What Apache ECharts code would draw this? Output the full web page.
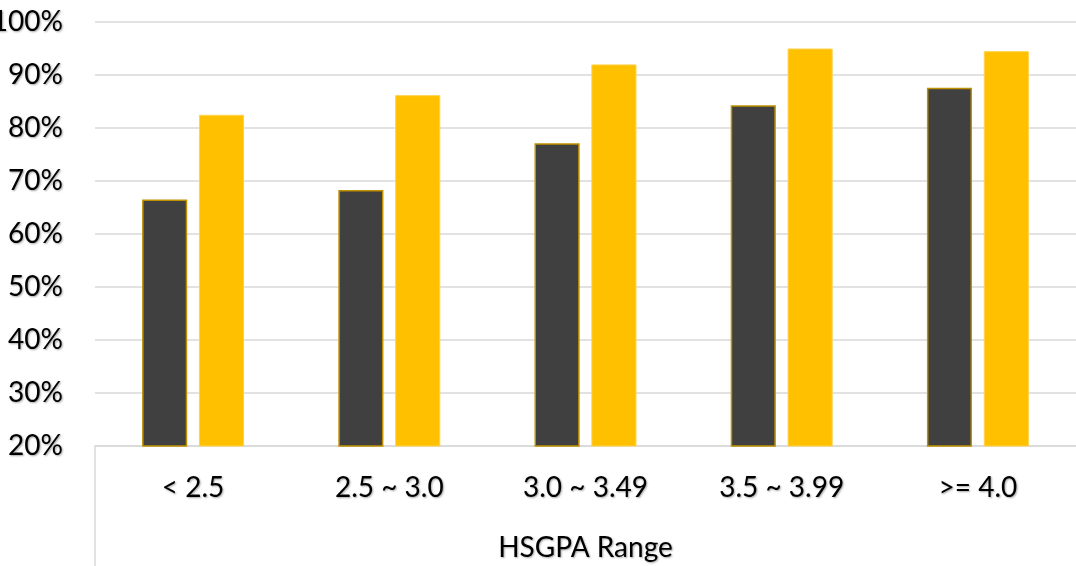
<!DOCTYPE html>
<html>
<head>
<meta charset="utf-8">
<script src="https://cdn.jsdelivr.net/npm/echarts@6/dist/echarts.min.js"></script>
<style>html,body{margin:0;padding:0;background:#fff}#c{width:1076px;height:566px}</style>
</head>
<body>
<div id="c"></div>
<script>
const categories = ['< 2.5', '2.5 ~ 3.0', '3.0 ~ 3.49', '3.5 ~ 3.99', '>= 4.0'];
const darkValues = [66.5, 68.3, 77.1, 84.3, 87.6];
const goldValues = [82.5, 86.2, 92.0, 95.0, 94.5];
const axisName = 'HSGPA Range';

const FONT = 'Lato, "Open Sans", sans-serif';
const FS = 28;
const shadow = { textShadowColor: 'rgba(0,0,0,0.35)', textShadowBlur: 2, textShadowOffsetX: 1, textShadowOffsetY: 1 };
const GRID = { left: 95, right: 0, top: 22, bottom: 120, outerBoundsMode: 'none', containLabel: false };

const chart = echarts.init(document.getElementById('c'), null, { renderer: 'canvas' });
chart.setOption({
  animation: false,
  backgroundColor: '#ffffff',
  grid: GRID,
  xAxis: {
    type: 'category',
    data: categories,
    axisLine: { show: true, lineStyle: { color: '#d9d9d9', width: 1.5 } },
    axisTick: { show: false },
    axisLabel: Object.assign({ color: '#000', fontFamily: FONT, fontSize: FS, margin: 28 }, shadow),
    name: axisName,
    nameLocation: 'middle',
    nameGap: 88,
    nameTextStyle: Object.assign({ color: '#000', fontFamily: FONT, fontSize: FS }, shadow)
  },
  yAxis: {
    type: 'value',
    min: 20, max: 100, interval: 10,
    axisLine: { show: false },
    axisTick: { show: false },
    splitLine: { lineStyle: { color: '#d9d9d9', width: 1.5 } },
    axisLabel: Object.assign({ color: '#000', fontFamily: FONT, fontSize: FS, margin: 32, formatter: '{value}%' }, shadow)
  },
  series: [
    {
      type: 'bar', data: darkValues, barWidth: '23%', barGap: '26%',
      itemStyle: { color: '#404040', borderColor: '#bf9000', borderWidth: 1.5 }
    },
    {
      type: 'bar', data: goldValues, barWidth: '23%',
      itemStyle: { color: '#ffc000', borderColor: '#ffd34d', borderWidth: 1 }
    }
  ],
  graphic: [{
    type: 'line',
    shape: { x1: GRID.left, y1: 566 - GRID.bottom, x2: GRID.left, y2: 566 },
    style: { stroke: '#d9d9d9', lineWidth: 1.5 }
  }]
});
</script>
</body>
</html>
